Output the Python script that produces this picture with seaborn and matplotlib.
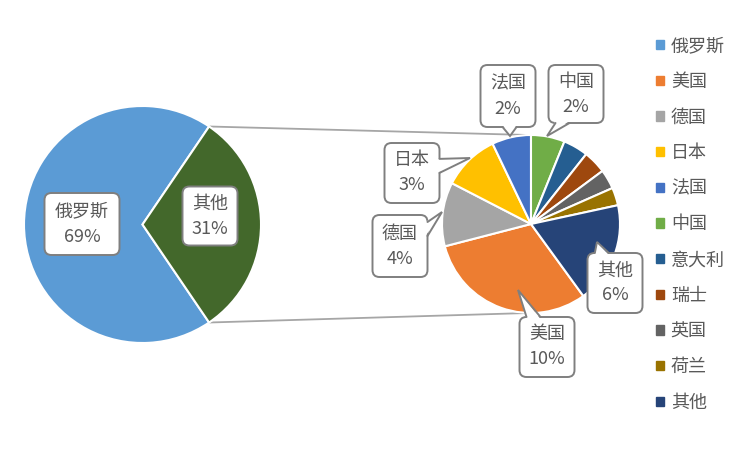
import matplotlib
matplotlib.use("Agg")
import matplotlib.pyplot as plt
import numpy as np
import seaborn as sns
from matplotlib.patches import FancyBboxPatch, Polygon, Patch

# ---- data (share of total, %) ----
main_categories = ["俄罗斯", "其他"]
russia_share = 69.0
detail_categories = ["美国", "德国", "日本", "法国", "中国", "意大利", "瑞士", "英国", "荷兰", "其他"]
detail_values = [9.6, 3.6, 3.2, 2.2, 1.9, 1.4, 1.3, 1.1, 1.0, 5.7]
main_values = [russia_share, sum(detail_values)]

main_colors = ["#5B9BD5", "#43682B"]
detail_colors = ["#ED7D31", "#A5A5A5", "#FFC000", "#4472C4", "#70AD47",
                 "#255E91", "#9E480E", "#636363", "#997300", "#264478"]

TXT = "#595959"
EDGE = "#7F7F7F"
FS = 13

sns.set_theme(style="white")
plt.rcParams["font.family"] = ["Noto Sans CJK SC", "DejaVu Sans"]


def callout(ax, cx, cy, w, h, text, tip=None):
    box = FancyBboxPatch((cx - w / 2, cy - h / 2), w, h,
                         boxstyle="round,pad=0,rounding_size=7",
                         fc="white", ec=EDGE, lw=1.4, zorder=5)
    ax.add_patch(box)
    if tip is not None:
        tx, ty = tip
        dx, dy = tx - cx, ty - cy
        sx = (w / 2) / abs(dx) if dx else np.inf
        sy = (h / 2) / abs(dy) if dy else np.inf
        half = 7
        if sx < sy:
            ex = cx + np.sign(dx) * w / 2
            ey = np.clip(cy + dy * sx, cy - h / 2 + 7 + half, cy + h / 2 - 7 - half)
            b1, b2 = (ex, ey - half), (ex, ey + half)
            i1, i2 = (ex - np.sign(dx) * 2, ey - half), (ex - np.sign(dx) * 2, ey + half)
        else:
            ey = cy + np.sign(dy) * h / 2
            ex = np.clip(cx + dx * sy, cx - w / 2 + 7 + half, cx + w / 2 - 7 - half)
            b1, b2 = (ex - half, ey), (ex + half, ey)
            i1, i2 = (ex - half, ey - np.sign(dy) * 2), (ex + half, ey - np.sign(dy) * 2)
        ax.add_patch(Polygon([i1, tip, i2], closed=True, fc="white", ec="none", zorder=6))
        ax.plot([b1[0], tx, b2[0]], [b1[1], ty, b2[1]], color=EDGE, lw=1.4,
                zorder=6, solid_joinstyle="miter")
    ax.text(cx, cy, text, ha="center", va="center", fontsize=FS, color=TXT,
            linespacing=1.5, zorder=7)


fig = plt.figure(figsize=(7.5, 4.5), dpi=100)
ax = fig.add_axes([0, 0, 1, 1])

# main pie
c1, r1 = (142.5, 225.5), 118.5
other_half = main_values[1] / sum(main_values) * 180
ax.pie(main_values, colors=main_colors, center=c1, radius=r1,
       startangle=other_half, counterclock=True,
       wedgeprops=dict(edgecolor="white", linewidth=1.5))

# detail pie
c2, r2 = (531, 226), 89
start2 = 90 + sum(detail_values[:4]) / sum(detail_values) * 360
ax.pie(detail_values, colors=detail_colors, center=c2, radius=r2,
       startangle=start2, counterclock=False,
       wedgeprops=dict(edgecolor="white", linewidth=1.5))

# connector lines
a = np.deg2rad(other_half)
for sgn in (1, -1):
    p0 = (c1[0] + r1 * np.cos(a), c1[1] + sgn * r1 * np.sin(a))
    p1 = (c2[0] - 3, c2[1] + sgn * r2)
    ax.plot([p0[0], p1[0]], [p0[1], p1[1]], color="#A6A6A6", lw=1.3, zorder=0.5)

# labels
total = sum(main_values)
callout(ax, 82, 226, 75, 62, f"{main_categories[0]}\n{main_values[0] / total * 100:.0f}%")
callout(ax, 210, 234, 55, 59, f"{main_categories[1]}\n{main_values[1] / total * 100:.0f}%")

label_layout = {
    "美国": ((547, 103, 55, 60), (518, 160)),
    "德国": ((400, 204, 55, 62), (442, 238)),
    "日本": ((412, 277, 55, 60), (470, 292)),
    "法国": ((508, 354, 55, 62), (510, 314)),
    "中国": ((576, 356, 55, 58), (547, 314)),
    "其他": ((615, 167, 55, 60), (597, 208)),
}
for name, val in zip(detail_categories, detail_values):
    if name in label_layout:
        (bx, by, bw, bh), tip = label_layout[name]
        callout(ax, bx, by, bw, bh, f"{name}\n{val / total * 100:.0f}%", tip)

# legend
handles = [Patch(color=c) for c in main_colors[:1] + detail_colors]
labels = main_categories[:1] + detail_categories
ax.legend(handles, labels, loc="upper left", bbox_to_anchor=(656 / 750, 1 - 37 / 450),
          frameon=False, fontsize=FS, labelcolor=TXT, handlelength=0.42,
          handleheight=0.42, handletextpad=0.4, labelspacing=0.98,
          borderpad=0, borderaxespad=0)

ax.set_xlim(0, 750)
ax.set_ylim(0, 450)
ax.set_aspect("equal")
ax.axis("off")

fig.savefig("out.png", dpi=100)
